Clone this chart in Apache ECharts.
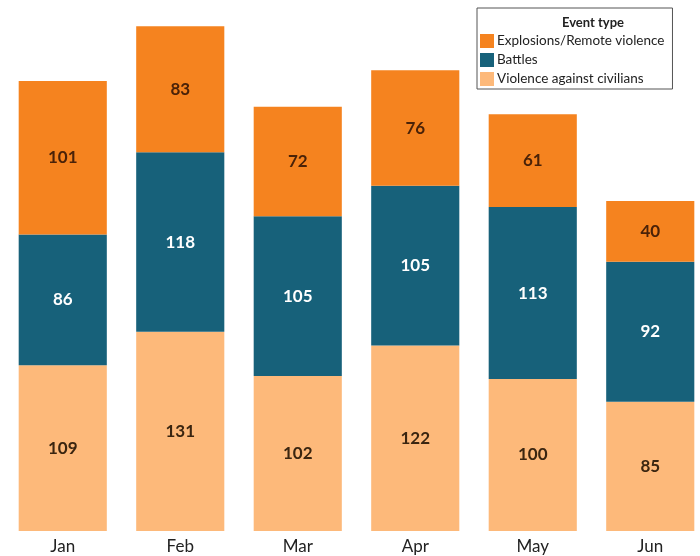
<!DOCTYPE html>
<html>
<head>
<meta charset="utf-8">
<style>
  html, body { margin: 0; padding: 0; background: #ffffff; }
  #chart { width: 700px; height: 556px; }
</style>
<script src="https://cdn.jsdelivr.net/npm/echarts@6/dist/echarts.min.js"></script>
</head>
<body>
<div id="chart"></div>
<script>
// Monthly event counts by type
const months = ['Jan', 'Feb', 'Mar', 'Apr', 'May', 'Jun'];
const violenceAgainstCivilians = [109, 131, 102, 122, 100, 85];
const battles = [86, 118, 105, 105, 113, 92];
const explosions = [101, 83, 72, 76, 61, 40];

const seriesNames = {
  civilians: 'Violence against civilians',
  battles: 'Battles',
  explosions: 'Explosions/Remote violence'
};

const colors = {
  civilians: '#fdb97a',
  battles: '#17617a',
  explosions: '#f5831f'
};

const chart = echarts.init(document.getElementById('chart'));

function stackSeries(name, data, color, labelColor) {
  return {
    name: name,
    type: 'bar',
    stack: 'events',
    data: data,
    barCategoryGap: '25%',
    itemStyle: { color: color },
    label: {
      show: true,
      position: 'inside',
      color: labelColor,
      fontFamily: 'Lato',
      fontSize: 17,
      fontWeight: 'bold'
    },
    emphasis: { disabled: true }
  };
}

chart.setOption({
  animation: false,
  backgroundColor: '#ffffff',
  textStyle: { fontFamily: 'Lato' },
  title: {
    text: 'Event type',
    left: 588,
    top: 11,
    textAlign: 'center',
    textStyle: { fontFamily: 'Lato', fontSize: 13, fontWeight: 'bold', color: '#222' }
  },
  legend: {
    orient: 'vertical',
    left: 477,
    top: 8,
    padding: [26, 8, 3, 3],
    borderColor: '#555',
    borderWidth: 1,
    itemWidth: 14,
    itemHeight: 14,
    itemGap: 5,
    icon: 'rect',
    data: [seriesNames.explosions, seriesNames.battles, seriesNames.civilians],
    textStyle: { fontFamily: 'Lato', fontSize: 13.5, color: '#222', padding: [0, 0, 0, -2] }
  },
  // the last bar runs a little past the right edge of the canvas
  grid: { left: 4, width: 705, top: 14, bottom: 25, containLabel: false, outerBoundsMode: 'none' },
  xAxis: {
    type: 'category',
    data: months,
    axisLine: { show: false },
    axisTick: { show: false },
    axisLabel: { fontFamily: 'Lato', fontSize: 17, color: '#222', margin: 7 }
  },
  yAxis: {
    type: 'value',
    min: 0,
    max: 340,
    show: false,
    splitLine: { show: false }
  },
  series: [
    stackSeries(seriesNames.civilians, violenceAgainstCivilians, colors.civilians, '#3a2510'),
    stackSeries(seriesNames.battles, battles, colors.battles, '#ffffff'),
    stackSeries(seriesNames.explosions, explosions, colors.explosions, '#4a2208')
  ]
});
</script>
</body>
</html>
